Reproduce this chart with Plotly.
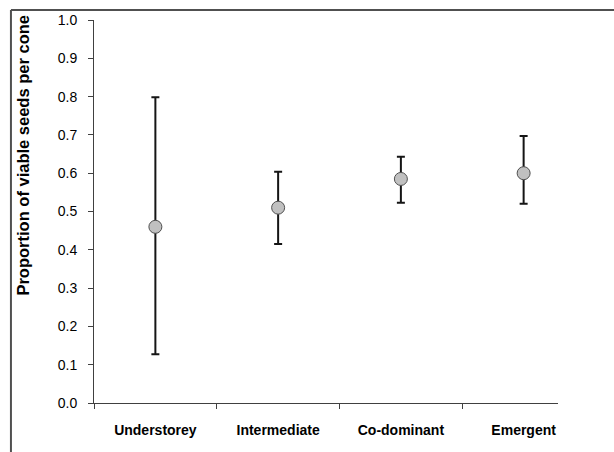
import plotly.graph_objects as go

# Canopy class of the cone-bearing tree
categories = ["Understorey", "Intermediate", "Co-dominant", "Emergent"]
# Mean proportion of viable seeds per cone and the interval bounds
mean_prop = [0.46, 0.51, 0.585, 0.60]
upper_bound = [0.798, 0.604, 0.643, 0.697]
lower_bound = [0.127, 0.415, 0.523, 0.520]
y_ticks = [0.0, 0.1, 0.2, 0.3, 0.4, 0.5, 0.6, 0.7, 0.8, 0.9, 1.0]

x_pos = list(range(len(categories)))
err_plus = [u - m for u, m in zip(upper_bound, mean_prop)]
err_minus = [m - l for m, l in zip(mean_prop, lower_bound)]

FONT = "Arial, Liberation Sans, sans-serif"
AXIS_COLOR = "#404040"

fig = go.Figure()
fig.add_trace(go.Scatter(
    x=x_pos,
    y=mean_prop,
    mode="markers",
    marker=dict(size=13, color="#c0c0c0", line=dict(width=1, color="#505050")),
    error_y=dict(
        type="data",
        symmetric=False,
        array=err_plus,
        arrayminus=err_minus,
        color="#151515",
        thickness=2,
        width=4,
    ),
    showlegend=False,
    hoverinfo="skip",
))

fig.update_layout(
    width=614,
    height=452,
    margin=dict(l=94, r=56, t=16, b=49),
    paper_bgcolor="white",
    plot_bgcolor="white",
    font=dict(family=FONT, color="black"),
    xaxis=dict(
        range=[-0.5, 3.28],
        tickmode="array",
        tickvals=x_pos,
        ticktext=["<b>%s</b>" % c for c in categories],
        ticks="",
        tickfont=dict(size=14, family=FONT),
        ticklabelstandoff=14,
        showline=True,
        linecolor=AXIS_COLOR,
        linewidth=1,
        showgrid=False,
        zeroline=False,
        minor=dict(
            tickmode="array",
            tickvals=[-0.5, 0.5, 1.5, 2.5],
            ticks="outside",
            ticklen=5,
            tickwidth=1,
            tickcolor=AXIS_COLOR,
            showgrid=False,
        ),
    ),
    yaxis=dict(
        range=[0, 1.0],
        tickmode="array",
        tickvals=y_ticks,
        tickformat=".1f",
        ticks="outside",
        ticklen=5,
        tickwidth=1,
        tickcolor=AXIS_COLOR,
        tickfont=dict(size=14, family=FONT),
        ticklabelstandoff=8,
        showline=True,
        linecolor=AXIS_COLOR,
        linewidth=1,
        showgrid=False,
        zeroline=False,
    ),
    annotations=[
        dict(
            text="<b>Proportion of viable seeds per cone</b>",
            xref="paper", yref="paper",
            x=-0.153, y=0.646,
            xanchor="center", yanchor="middle",
            textangle=-90,
            showarrow=False,
            font=dict(size=16.5, family=FONT, color="black"),
        )
    ],
    shapes=[
        # outer chart frame along the left and top edges
        dict(type="line", xref="paper", yref="paper",
             x0=-0.179, x1=-0.179, y0=1.026, y1=-0.2,
             line=dict(color="#505050", width=2)),
        dict(type="line", xref="paper", yref="paper",
             x0=-0.179, x1=1.2, y0=1.026, y1=1.026,
             line=dict(color="#505050", width=2)),
    ],
)

fig.write_html("out.html")
